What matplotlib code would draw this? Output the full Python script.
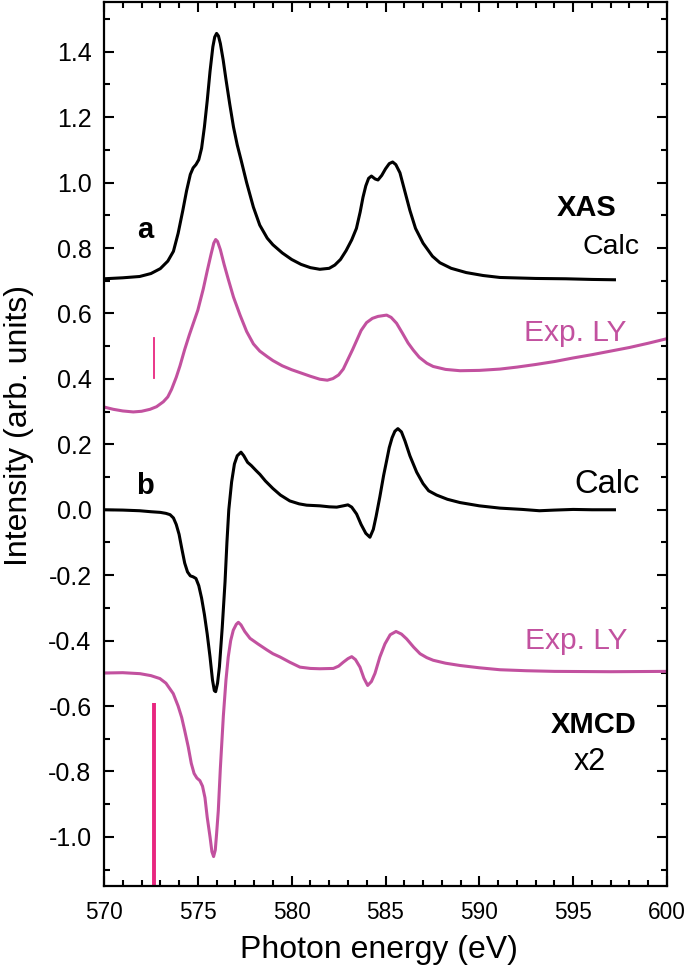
import matplotlib
matplotlib.use("Agg")
import matplotlib.pyplot as plt
from matplotlib.ticker import MultipleLocator

plt.rcParams['font.family'] = ['Liberation Sans', 'DejaVu Sans']
plt.rcParams['axes.unicode_minus'] = False

# XAS, calculated  (energy eV, intensity)
xas_calc = [
    (570, 0.706), (571, 0.709), (571.9, 0.713), (572.5, 0.722), (573.0, 0.737), (573.4, 0.76),
    (573.7, 0.79), (573.95, 0.845), (574.2, 0.915), (574.4, 0.975), (574.6, 1.025), (574.75, 1.045),
    (574.9, 1.055), (575.05, 1.07), (575.2, 1.105), (575.35, 1.17), (575.5, 1.25), (575.65, 1.34),
    (575.8, 1.415), (575.9, 1.445), (576.0, 1.456), (576.1, 1.448), (576.2, 1.425), (576.35, 1.375),
    (576.5, 1.315), (576.7, 1.24), (576.9, 1.17), (577.1, 1.115), (577.3, 1.07), (577.6, 1.0),
    (577.96, 0.925), (578.3, 0.87), (578.7, 0.83), (579.0, 0.81), (579.5, 0.785), (580.0, 0.765),
    (580.5, 0.75), (581.0, 0.74), (581.5, 0.735), (582.0, 0.738), (582.3, 0.748), (582.6, 0.765),
    (582.9, 0.792), (583.2, 0.825), (583.45, 0.86), (583.65, 0.91), (583.8, 0.955), (583.95, 0.99),
    (584.1, 1.013), (584.25, 1.02), (584.45, 1.011), (584.6, 1.008), (584.8, 1.022), (585.0, 1.042),
    (585.2, 1.058), (585.38, 1.063), (585.55, 1.055), (585.77, 1.03), (586.0, 0.98), (586.3, 0.915),
    (586.6, 0.86), (587.0, 0.815), (587.5, 0.775), (587.9, 0.755), (588.5, 0.738), (589.3, 0.725),
    (590.2, 0.716), (591.1, 0.710), (593, 0.707), (594.6, 0.706), (596, 0.704), (597.2, 0.703),
]

# XAS, experiment (LY)
xas_exp = [
    (570, 0.314), (570.5, 0.307), (571, 0.302), (571.56, 0.299), (572, 0.301), (572.45, 0.307),
    (572.8, 0.315), (573.16, 0.33), (573.4, 0.345), (573.6, 0.368), (573.85, 0.405), (574.05, 0.44),
    (574.3, 0.49), (574.55, 0.535), (574.76, 0.57), (575.0, 0.61), (575.29, 0.675), (575.5, 0.73),
    (575.7, 0.78), (575.85, 0.815), (575.95, 0.826), (576.05, 0.82), (576.2, 0.795), (576.4, 0.75),
    (576.62, 0.705), (576.9, 0.65), (577.25, 0.595), (577.6, 0.545), (577.96, 0.507), (578.3, 0.485),
    (578.7, 0.468), (579.0, 0.456), (579.5, 0.44), (580.0, 0.428), (580.5, 0.418), (581.0, 0.408),
    (581.5, 0.399), (581.9, 0.396), (582.2, 0.401), (582.5, 0.412), (582.75, 0.43), (583.0, 0.46),
    (583.25, 0.49), (583.46, 0.517), (583.7, 0.548), (583.99, 0.572), (584.3, 0.585), (584.6, 0.591),
    (585.06, 0.595), (585.3, 0.588), (585.59, 0.57), (585.9, 0.54), (586.2, 0.51), (586.48, 0.488),
    (586.8, 0.466), (587.2, 0.448), (587.54, 0.438), (588.2, 0.429), (588.97, 0.425), (590, 0.426),
    (591.1, 0.43), (592, 0.436), (593, 0.444), (594, 0.453), (595, 0.464), (596, 0.474),
    (597, 0.485), (598, 0.496), (599, 0.509), (600, 0.523),
]

# XMCD, calculated
xmcd_calc = [
    (570, 0.0), (571, -0.001), (571.9, -0.003), (572.5, -0.006), (573.0, -0.008), (573.3, -0.011),
    (573.52, -0.015), (573.7, -0.025), (573.85, -0.045), (574.0, -0.075), (574.15, -0.12),
    (574.3, -0.163), (574.45, -0.19), (574.6, -0.202), (574.75, -0.205), (574.9, -0.21),
    (575.05, -0.232), (575.2, -0.27), (575.35, -0.32), (575.5, -0.38), (575.65, -0.45),
    (575.78, -0.52), (575.88, -0.553), (575.95, -0.556), (576.05, -0.53), (576.15, -0.48),
    (576.3, -0.36), (576.45, -0.22), (576.55, -0.1), (576.65, 0.0), (576.8, 0.085), (576.95, 0.14),
    (577.1, 0.165), (577.3, 0.176), (577.45, 0.165), (577.65, 0.145), (577.85, 0.135), (578.1, 0.12),
    (578.31, 0.108), (578.6, 0.088), (579.0, 0.065), (579.4, 0.045), (579.9, 0.027), (580.4, 0.018),
    (580.8, 0.014), (581.5, 0.012), (582.0, 0.009), (582.4, 0.008), (582.75, 0.012), (583.0, 0.015),
    (583.2, 0.008), (583.46, -0.013), (583.7, -0.045), (583.95, -0.072), (584.17, -0.084),
    (584.35, -0.06), (584.5, -0.02), (584.7, 0.04), (584.9, 0.105), (585.06, 0.15), (585.2, 0.19),
    (585.35, 0.22), (585.5, 0.24), (585.66, 0.248), (585.85, 0.238), (586.04, 0.21), (586.3, 0.165),
    (586.66, 0.115), (587.0, 0.08), (587.3, 0.058), (587.72, 0.045), (588.3, 0.032), (588.97, 0.022),
    (590, 0.012), (591.1, 0.005), (592.3, 0.001), (593.2, -0.003), (594, -0.001), (595, 0.001),
    (596, 0.0), (597.2, 0.0),
]

# XMCD, experiment (LY), x2
xmcd_exp = [
    (570, -0.499), (571, -0.498), (571.92, -0.501), (572.5, -0.507), (572.98, -0.516), (573.3, -0.53),
    (573.69, -0.562), (573.95, -0.6), (574.14, -0.635), (574.3, -0.675), (574.49, -0.725),
    (574.65, -0.775), (574.8, -0.806), (574.95, -0.82), (575.11, -0.828), (575.25, -0.845),
    (575.38, -0.88), (575.5, -0.94), (575.65, -1.0), (575.75, -1.045), (575.84, -1.06),
    (575.93, -1.04), (576.0, -0.99), (576.09, -0.92), (576.2, -0.79), (576.36, -0.63), (576.5, -0.52),
    (576.62, -0.45), (576.75, -0.4), (576.89, -0.368), (577.05, -0.35), (577.16, -0.344),
    (577.3, -0.352), (577.5, -0.372), (577.78, -0.393), (578.2, -0.41), (578.67, -0.428),
    (579.0, -0.44), (579.38, -0.45), (579.9, -0.466), (580.44, -0.481), (581.0, -0.485),
    (581.5, -0.486), (582.22, -0.485), (582.5, -0.478), (582.75, -0.466), (583.0, -0.455),
    (583.2, -0.449), (583.4, -0.458), (583.64, -0.481), (583.85, -0.515), (584.05, -0.537),
    (584.25, -0.525), (584.44, -0.5), (584.7, -0.45), (584.97, -0.41), (585.25, -0.382),
    (585.56, -0.372), (585.85, -0.38), (586.13, -0.395), (586.5, -0.42), (586.84, -0.44),
    (587.2, -0.452), (587.54, -0.46), (588.2, -0.469), (588.97, -0.476), (590, -0.483),
    (591.1, -0.489), (592.5, -0.492), (594, -0.494), (597, -0.495), (600, -0.494),
]

# pink marker bars at the same energy
bar_x = 572.66
bar_xas = (0.403, 0.525)
bar_xmcd = (-1.15, -0.591)

magenta = '#c2519f'
pink = '#e8267f'

fig = plt.figure(figsize=(6.85, 9.74), dpi=100)
ax = fig.add_axes([104 / 685, 1 - 886 / 974, 563 / 685, 884 / 974])

for data, col in [(xas_calc, 'black'), (xas_exp, magenta), (xmcd_calc, 'black'), (xmcd_exp, magenta)]:
    xs, ys = zip(*data)
    ax.plot(xs, ys, color=col, lw=2.2, solid_joinstyle='round')

ax.plot([bar_x, bar_x], bar_xas, color=pink, lw=1.3)
ax.plot([bar_x, bar_x], bar_xmcd, color=pink, lw=2.8, solid_capstyle='butt')

ax.set_xlim(570, 600)
ax.set_ylim(-1.15, 1.552)

ax.xaxis.set_major_locator(MultipleLocator(5))
ax.xaxis.set_minor_locator(MultipleLocator(1))
ax.yaxis.set_major_locator(MultipleLocator(0.2))
ax.yaxis.set_minor_locator(MultipleLocator(0.1))
ax.yaxis.set_major_formatter(plt.FuncFormatter(lambda v, p: '%.1f' % v if abs(v) > 1e-9 else '0.0'))

ax.tick_params(which='both', direction='in', top=True, right=True, width=1.5)
ax.tick_params(which='major', length=7)
ax.tick_params(which='minor', length=4)
ax.tick_params(axis='y', which='major', labelsize=18, pad=9)
ax.tick_params(axis='x', which='major', labelsize=16.3, pad=11)
for s in ax.spines.values():
    s.set_linewidth(1.6)

ax.set_xlabel('Photon energy (eV)', fontsize=23, labelpad=8)
ax.set_ylabel('Intensity (arb. units)', fontsize=23, labelpad=10)
ax.xaxis.label.set_x(0.489)
ax.yaxis.label.set_y(0.521)

# labels
ax.text(572.18, 0.830, 'a', fontsize=21, fontweight='bold', ha='center', va='baseline')
ax.text(572.18, 0.049, 'b', fontsize=21, fontweight='bold', ha='center', va='baseline')
ax.text(597.31, 0.897, 'XAS', fontsize=21, fontweight='bold', ha='right', va='baseline')
ax.text(598.56, 0.782, 'Calc', fontsize=20.5, ha='right', va='baseline')
ax.text(597.85, 0.517, 'Exp. LY', fontsize=21.5, color=magenta, ha='right', va='baseline')
ax.text(598.56, 0.051, 'Calc', fontsize=23.5, ha='right', va='baseline')
ax.text(597.9, -0.425, 'Exp. LY', fontsize=21.5, color=magenta, ha='right', va='baseline')
ax.text(598.4, -0.682, 'XMCD', fontsize=21, fontweight='bold', ha='right', va='baseline')
ax.text(596.74, -0.796, 'x2', fontsize=22, ha='right', va='baseline')

fig.savefig('out.png', dpi=100)
